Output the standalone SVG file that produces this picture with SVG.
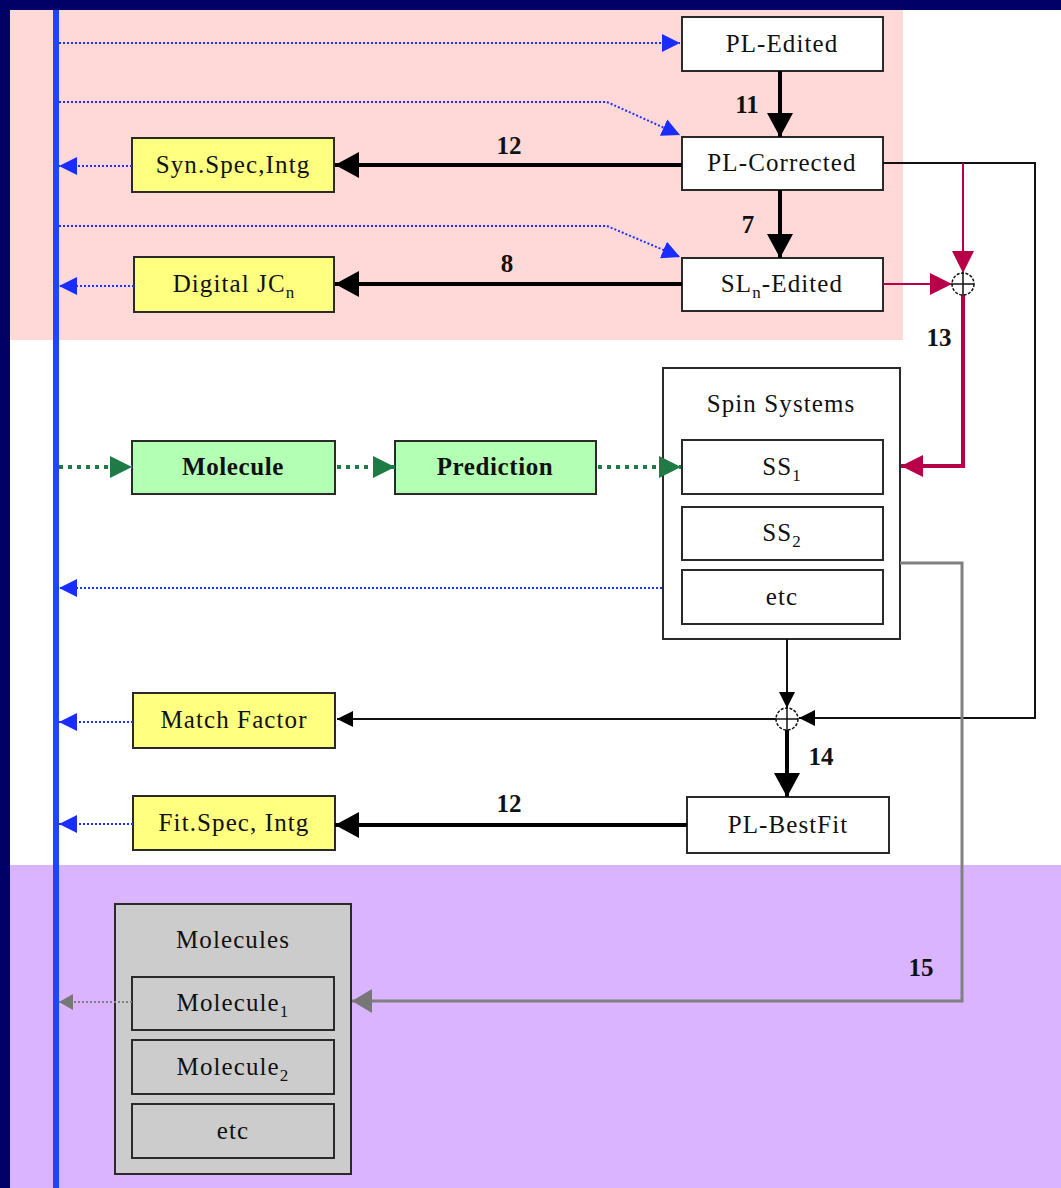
<svg xmlns="http://www.w3.org/2000/svg" width="1061" height="1188" viewBox="0 0 1061 1188">
<style>
.box{stroke:#2a2a2a;stroke-width:2}
.w{fill:#ffffff}
.y{fill:#ffff80}
.g{fill:#b3ffb3}
.gr{fill:#cccccc}
.t{font-family:"Liberation Serif",serif;font-size:25px;fill:#111;text-anchor:middle;letter-spacing:1.1px}
.b{font-weight:bold;letter-spacing:0.6px}
.n{font-family:"Liberation Serif",serif;font-size:25px;font-weight:bold;fill:#111;text-anchor:middle}
.sub{font-size:17px}
.thick{stroke:#000;stroke-width:4;fill:none}
.thin{stroke:#111;stroke-width:2;fill:none}
.blue{stroke:#2030ff;stroke-width:2;stroke-dasharray:2,2;fill:none}
.green{stroke:#1e7b45;stroke-width:4;stroke-dasharray:4,5;fill:none}
.red{stroke:#b8004a;fill:none}
.gray{stroke:#808080;fill:none}
</style>
<defs>
<marker id="mBig" markerUnits="userSpaceOnUse" markerWidth="24" markerHeight="26" refX="24" refY="13" orient="auto"><path d="M0,0 L24,13 L0,26 z" fill="#000"/></marker>
<marker id="mSmall" markerUnits="userSpaceOnUse" markerWidth="16" markerHeight="16" refX="16" refY="8" orient="auto"><path d="M0,0 L16,8 L0,16 z" fill="#000"/></marker>
<marker id="mBlue" markerUnits="userSpaceOnUse" markerWidth="18" markerHeight="18" refX="18" refY="9" orient="auto"><path d="M0,0 L18,9 L0,18 z" fill="#1a2cff"/></marker>
<marker id="mGreen" markerUnits="userSpaceOnUse" markerWidth="22" markerHeight="22" refX="22" refY="11" orient="auto"><path d="M0,0 L22,11 L0,22 z" fill="#1e7b45"/></marker>
<marker id="mRed" markerUnits="userSpaceOnUse" markerWidth="22" markerHeight="22" refX="22" refY="11" orient="auto"><path d="M0,0 L22,11 L0,22 z" fill="#b8004a"/></marker>
<marker id="mGray" markerUnits="userSpaceOnUse" markerWidth="20" markerHeight="24" refX="20" refY="12" orient="auto"><path d="M0,0 L20,12 L0,24 z" fill="#777"/></marker>
<marker id="mGraySm" markerUnits="userSpaceOnUse" markerWidth="14" markerHeight="16" refX="14" refY="8" orient="auto"><path d="M0,0 L14,8 L0,16 z" fill="#777"/></marker>
</defs>

<!-- background -->
<rect x="0" y="0" width="1061" height="1188" fill="#ffffff"/>
<rect x="10" y="10" width="893" height="330" fill="#ffd8d8"/>
<rect x="10" y="865" width="1051" height="323" fill="#dab4ff"/>
<rect x="0" y="0" width="1061" height="10" fill="#000066"/>
<rect x="0" y="0" width="10" height="1188" fill="#000066"/>
<rect x="53" y="10" width="6" height="1178" fill="#1f45ff"/>

<g id="pl-edited"><rect class="box w" x="682" y="17" width="201" height="54"/><text class="t" x="782" y="52">PL-Edited</text></g>
<g id="pl-corrected"><rect class="box w" x="682" y="137" width="201" height="53"/><text class="t" x="782" y="171">PL-Corrected</text></g>
<g id="sln-edited"><rect class="box w" x="682" y="258" width="201" height="53"/><text class="t" x="782" y="292">SL<tspan class="sub" dy="6">n</tspan><tspan dy="-6">-Edited</tspan></text></g>
<g id="syn-spec"><rect class="box y" x="132" y="138" width="202" height="54"/><text class="t" x="233" y="173">Syn.Spec,Intg</text></g>
<g id="digital-jcn"><rect class="box y" x="134" y="257" width="200" height="55"/><text class="t" x="234" y="292">Digital JC<tspan class="sub" dy="6">n</tspan></text></g>
<g id="molecule"><rect class="box g" x="132" y="441" width="203" height="53"/><text class="t b" x="233" y="475">Molecule</text></g>
<g id="prediction"><rect class="box g" x="395" y="441" width="201" height="53"/><text class="t b" x="495" y="475">Prediction</text></g>
<g id="spin-systems">
<rect class="box w" x="663" y="368" width="237" height="271"/>
<text class="t" x="781" y="412">Spin Systems</text>
<g id="ss1"><rect class="box w" x="682" y="440" width="201" height="54"/><text class="t" x="782" y="475">SS<tspan class="sub" dy="6">1</tspan></text></g>
<g id="ss2"><rect class="box w" x="682" y="507" width="201" height="53"/><text class="t" x="782" y="541">SS<tspan class="sub" dy="6">2</tspan></text></g>
<g id="ss-etc"><rect class="box w" x="682" y="570" width="201" height="54"/><text class="t" x="782" y="605">etc</text></g>
</g>
<g id="match-factor"><rect class="box y" x="133" y="693" width="202" height="55"/><text class="t" x="234" y="728">Match Factor</text></g>
<g id="fit-spec"><rect class="box y" x="133" y="796" width="202" height="54"/><text class="t" x="234" y="831">Fit.Spec, Intg</text></g>
<g id="pl-bestfit"><rect class="box w" x="687" y="797" width="202" height="56"/><text class="t" x="788" y="833">PL-BestFit</text></g>
<g id="molecules">
<rect class="box gr" x="115" y="904" width="236" height="270"/>
<text class="t" x="233" y="948">Molecules</text>
<g id="molecule1"><rect class="box gr" x="132" y="977" width="202" height="53"/><text class="t" x="233" y="1011">Molecule<tspan class="sub" dy="6">1</tspan></text></g>
<g id="molecule2"><rect class="box gr" x="132" y="1040" width="202" height="54"/><text class="t" x="233" y="1075">Molecule<tspan class="sub" dy="6">2</tspan></text></g>
<g id="mol-etc"><rect class="box gr" x="132" y="1104" width="202" height="54"/><text class="t" x="233" y="1139">etc</text></g>
</g>

<g id="connectors">
<!-- blue dotted -->
<polyline class="blue" points="59,43 680,43" marker-end="url(#mBlue)"/>
<polyline class="blue" points="59,102 607,102 680,135" marker-end="url(#mBlue)"/>
<polyline class="blue" points="59,226 607,226 680,257" marker-end="url(#mBlue)"/>
<line class="blue" x1="132" y1="166" x2="59" y2="166" marker-end="url(#mBlue)"/>
<line class="blue" x1="134" y1="286" x2="59" y2="286" marker-end="url(#mBlue)"/>
<line class="blue" x1="662" y1="588" x2="59" y2="588" marker-end="url(#mBlue)"/>
<line class="blue" x1="133" y1="722" x2="59" y2="722" marker-end="url(#mBlue)"/>
<line class="blue" x1="133" y1="824" x2="59" y2="824" marker-end="url(#mBlue)"/>
<!-- green dotted -->
<line class="green" x1="59" y1="467" x2="132" y2="467" marker-end="url(#mGreen)"/>
<line class="green" x1="337" y1="467" x2="395" y2="467" marker-end="url(#mGreen)"/>
<line class="green" x1="598" y1="467" x2="681" y2="467" marker-end="url(#mGreen)"/>
<!-- thick black -->
<line class="thick" x1="780" y1="71" x2="780" y2="137" marker-end="url(#mBig)"/>
<line class="thick" x1="780" y1="190" x2="780" y2="258" marker-end="url(#mBig)"/>
<line class="thick" x1="682" y1="165" x2="335" y2="165" marker-end="url(#mBig)"/>
<line class="thick" x1="682" y1="284" x2="335" y2="284" marker-end="url(#mBig)"/>
<line class="thick" x1="787" y1="730" x2="787" y2="797" marker-end="url(#mBig)"/>
<line class="thick" x1="687" y1="825" x2="335" y2="825" marker-end="url(#mBig)"/>
<!-- thin black -->
<polyline class="thin" points="883,163 1035,163 1035,718 799,718" marker-end="url(#mSmall)"/>
<line class="thin" x1="787" y1="639" x2="787" y2="708" marker-end="url(#mSmall)"/>
<line class="thin" x1="776" y1="719" x2="337" y2="719" marker-end="url(#mSmall)"/>
<!-- crimson -->
<line class="red" stroke-width="2" x1="963" y1="163" x2="963" y2="273" marker-end="url(#mRed)"/>
<line class="red" stroke-width="2" x1="883" y1="284" x2="952" y2="284" marker-end="url(#mRed)"/>
<polyline class="red" stroke-width="4" points="963,295 963,466 901,466" marker-end="url(#mRed)"/>
<!-- gray -->
<polyline class="gray" stroke-width="3" points="900,563 962,563 962,1001 352,1001" marker-end="url(#mGray)"/>
<line class="gray" stroke-width="2" stroke-dasharray="2,2" x1="132" y1="1002" x2="59" y2="1002" marker-end="url(#mGraySm)"/>
<!-- summing junctions -->
<g>
<circle cx="963" cy="284" r="11" fill="#fff" stroke="#111" stroke-width="1.5" stroke-dasharray="3,1.5"/>
<line x1="952" y1="284" x2="974" y2="284" stroke="#111" stroke-width="1.5"/>
<line x1="963" y1="273" x2="963" y2="295" stroke="#111" stroke-width="1.5"/>
</g>
<g>
<circle cx="787" cy="719" r="11" fill="#fff" stroke="#111" stroke-width="1.5" stroke-dasharray="3,1.5"/>
<line x1="776" y1="719" x2="798" y2="719" stroke="#111" stroke-width="1.5"/>
<line x1="787" y1="708" x2="787" y2="730" stroke="#111" stroke-width="1.5"/>
</g>
<!-- labels -->
<text class="n" x="747" y="113">11</text>
<text class="n" x="748" y="233">7</text>
<text class="n" x="509" y="154">12</text>
<text class="n" x="507" y="272">8</text>
<text class="n" x="939" y="346">13</text>
<text class="n" x="821" y="765">14</text>
<text class="n" x="509" y="812">12</text>
<text class="n" x="921" y="976">15</text>
</g>
</svg>
